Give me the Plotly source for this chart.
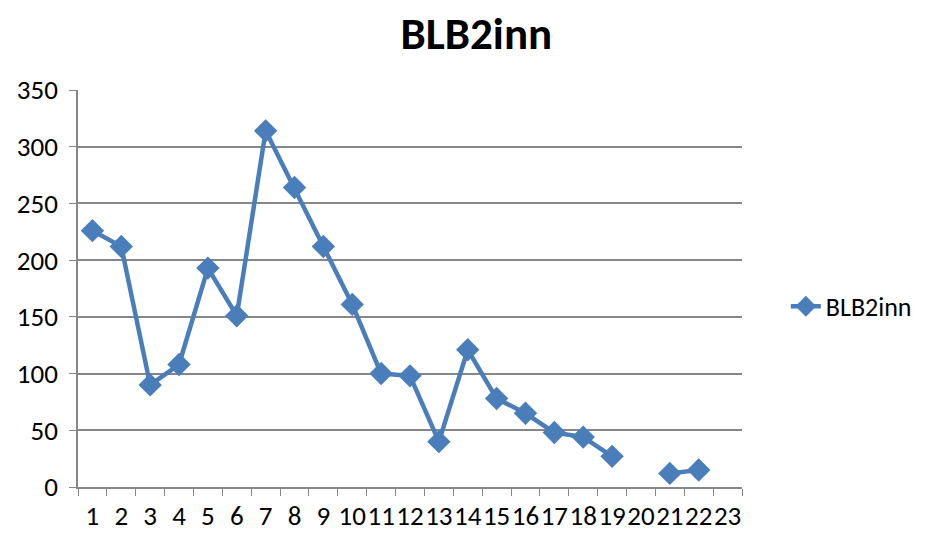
import plotly.graph_objects as go

categories = [str(i) for i in range(1, 24)]
values = [226, 212, 90, 108, 193, 151, 314, 264, 212, 161, 100, 98, 40, 121,
          78, 65, 48, 44, 27, None, 12, 15, None]
series_name = "BLB2inn"
y_ticks = [0, 50, 100, 150, 200, 250, 300, 350]

fig = go.Figure()
fig.add_trace(go.Scatter(
    x=categories, y=values, name=series_name, mode="lines+markers",
    connectgaps=False,
    line=dict(color="#4A7EBB", width=4.5),
    marker=dict(symbol="diamond", size=18, color="#4A7EBB"),
))

font_family = "Carlito, Calibri, 'Open Sans', 'Liberation Sans', sans-serif"
fig.update_layout(
    width=922, height=525,
    margin=dict(l=70, r=188, t=82, b=46),
    paper_bgcolor="white", plot_bgcolor="white",
    font=dict(family=font_family, size=27, color="black"),
    title=dict(text="<b>BLB2inn</b>", x=0.508, xanchor="center", y=0.952, yanchor="middle",
               font=dict(size=45, color="black", family=font_family)),
    showlegend=True,
    legend=dict(x=1.066, xanchor="left", y=0.455, yanchor="middle",
                font=dict(size=26), bgcolor="rgba(0,0,0,0)"),
    xaxis=dict(type="category", tickson="boundaries", ticks="outside", ticklen=7,
               tickmode="array", tickvals=categories, ticktext=categories, tickangle=0,
               automargin=False, ticklabelstandoff=4,
               tickcolor="#868686", showline=True, linecolor="#868686", linewidth=1.5,
               showgrid=False, range=[-0.5, 22.5], tickfont=dict(size=27)),
    yaxis=dict(range=[0, 350], tickvals=y_ticks, ticks="outside", ticklen=7,
               automargin=False, ticklabelstandoff=6,
               tickcolor="#868686", showline=True, linecolor="#868686", linewidth=1.5,
               gridcolor="#868686", gridwidth=1.5, zeroline=False,
               tickfont=dict(size=27)),
)

fig.write_html("out.html")
